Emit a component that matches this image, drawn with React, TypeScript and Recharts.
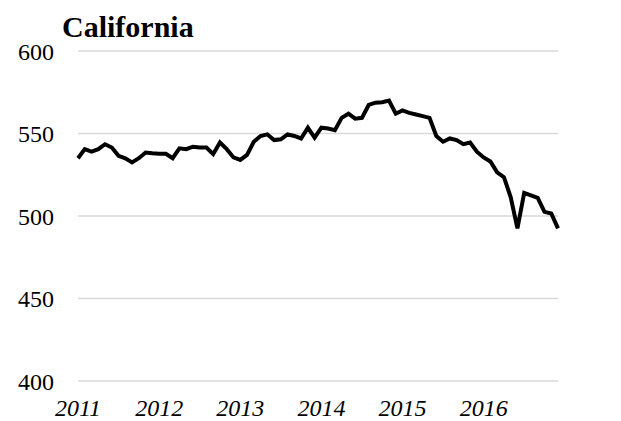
import React from 'react';
import { LineChart, Line, XAxis, YAxis, CartesianGrid } from 'recharts';

const years = ['2011', '2012', '2013', '2014', '2015', '2016'];
const yTicks = [400, 450, 500, 550, 600];
const values = [
  535, 540.5, 539, 540.5, 543.5, 541.5, 536.5, 535, 532.5, 535, 538.5, 538,
  537.8, 537.7, 535, 541, 540.5, 542, 541.5, 541.5, 537.5, 544.5, 540.5, 535.5,
  534, 537, 545, 548.5, 549.5, 546, 546.5, 549.5, 548.5, 547, 553.5, 547.5,
  553.5, 553, 552, 559.5, 562, 559, 559.5, 567.3, 568.7, 569, 570, 562,
  564, 562.5, 561.5, 560.5, 559.5, 548.5, 545, 547, 546, 543.5, 544.5, 539,
  535.5, 533, 526.5, 523.5, 511.5, 492.5, 514, 512.5, 511, 502.5, 501.5, 492.5,
];

const data = values.map((v, i) => ({ t: i, v }));
const xTicks = years.map((_, i) => i * 12);

const FONT = '"Liberation Serif", "Times New Roman", serif';

export default function App() {
  return (
    <div
      style={{
        position: 'absolute',
        left: 0,
        top: 0,
        width: 621,
        height: 421,
        background: '#fff',
        overflow: 'hidden',
        fontFamily: FONT,
      }}
    >
      <div
        style={{
          position: 'absolute',
          left: 62,
          top: 12,
          fontFamily: FONT,
          fontWeight: 'bold',
          fontSize: 30,
          lineHeight: '30px',
          color: '#000',
          whiteSpace: 'nowrap',
        }}
      >
        California
      </div>
      <LineChart
        width={621}
        height={421}
        data={data}
        margin={{ top: 51, right: 0, bottom: 0, left: 0 }}
        style={{ fontFamily: FONT }}
      >
        <CartesianGrid yAxisId="left" horizontal vertical={false} stroke="#d9d9d9" strokeWidth={1.5} />
        <XAxis
          dataKey="t"
          type="number"
          domain={[0, 71]}
          ticks={xTicks}
          interval={0}
          tickFormatter={(i: number) => years[Math.round(i / 12)]}
          axisLine={false}
          tickLine={false}
          tickSize={0}
          tickMargin={18}
          height={40}
          tick={{ fontSize: 24, fontStyle: 'italic', fill: '#000', fontFamily: FONT }}
        />
        <YAxis
          yAxisId="left"
          orientation="left"
          domain={[400, 600]}
          ticks={yTicks}
          interval={0}
          axisLine={false}
          tickLine={false}
          tickSize={0}
          tickMargin={24}
          width={78}
          tick={{ fontSize: 24, fill: '#000', fontFamily: FONT }}
        />
        <YAxis
          yAxisId="right"
          orientation="right"
          domain={[400, 600]}
          ticks={yTicks}
          interval={0}
          axisLine={false}
          tickLine={false}
          tickSize={0}
          tickMargin={24}
          width={63}
          tick={{ fontSize: 24, fill: '#000', fontFamily: FONT }}
        />
        <Line
          yAxisId="left"
          type="linear"
          dataKey="v"
          stroke="#000"
          strokeWidth={4}
          dot={false}
          isAnimationActive={false}
        />
      </LineChart>
    </div>
  );
}
